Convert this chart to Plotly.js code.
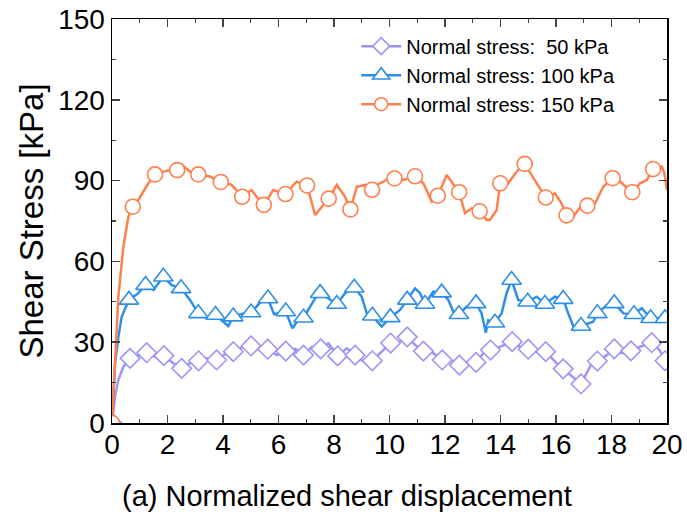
<!DOCTYPE html>
<html>
<head>
<meta charset="utf-8">
<script src="https://cdn.plot.ly/plotly-3.0.1.min.js"></script>
<style>html,body{margin:0;padding:0;background:#fff}#chart{width:687px;height:521px}</style>
</head>
<body>
<div id="chart"></div>
<script>
// Series names
const seriesNames = ["Normal stress:  50 kPa", "Normal stress: 100 kPa", "Normal stress: 150 kPa"];

// 50 kPa: marker points and intermediate line points
const s50MarkX = [0, 0.65, 1.25, 1.87, 2.51, 3.12, 3.77, 4.37, 5.01, 5.61, 6.26, 6.9, 7.52, 8.13, 8.76, 9.38, 10.04, 10.64, 11.22, 11.9, 12.52, 13.12, 13.64, 14.42, 15.0, 15.63, 16.26, 16.9, 17.49, 18.1, 18.7, 19.45, 19.93];
const s50MarkY = [0, 24, 26.1, 25, 20.3, 23.1, 23.4, 26.5, 28.6, 27.4, 26.7, 25.2, 27.5, 24.9, 25.2, 23.1, 29.7, 32, 26.7, 23.4, 21.5, 22.5, 27.1, 30.2, 27.4, 26.5, 20.1, 14.5, 23, 27.5, 26.8, 29.8, 23.1];
const s50LineX = [0.11, 0.23, 0.41, 0.95, 1.55, 2.21, 2.81, 3.41, 4.13, 4.73, 5.33, 5.94, 6.62, 7.2, 7.8, 8.46, 9.06, 9.66, 10.38, 10.92, 11.58, 12.18, 12.84, 13.38, 13.98, 14.7, 15.3, 16.02, 16.56, 17.29, 17.83, 18.37, 19.03, 19.73, 20];
const s50LineY = [9.8, 16, 20.9, 25.2, 24.6, 22.2, 22.2, 24, 25.9, 28.3, 27.1, 25.2, 27.5, 28.3, 29.6, 27.7, 22.8, 25.9, 30.2, 29, 25.9, 23.4, 22.2, 25.9, 28.3, 28.3, 27.1, 22.2, 17.8, 22.2, 25.2, 25.9, 28.3, 27.1, 22];

// 100 kPa
const s100MarkX = [0, 0.61, 1.21, 1.85, 2.49, 3.11, 3.73, 4.37, 5.01, 5.62, 6.26, 6.9, 7.5, 8.1, 8.73, 9.38, 10.03, 10.64, 11.28, 11.88, 12.5, 13.12, 13.8, 14.4, 14.98, 15.6, 16.26, 16.9, 17.49, 18.1, 18.81, 19.41, 19.93];
const s100MarkY = [0, 45.7, 51.2, 54.3, 50, 40.7, 40.1, 39.5, 41.0, 46.2, 41.4, 39.1, 48.2, 44.2, 50.2, 39.8, 39.2, 45.7, 44.2, 48.4, 40.4, 44.4, 37.2, 53.1, 45.0, 44.2, 46.0, 36.0, 40.7, 44.4, 40.4, 38.9, 38.9];
const s100LineX = [0.05, 0.11, 0.23, 0.35, 0.95, 1.49, 2.15, 2.81, 3.41, 4.19, 4.73, 5.36, 5.84, 6.5, 6.71, 7.14, 7.32, 7.8, 8.4, 9.0, 9.18, 9.72, 10.38, 10.92, 11.1, 11.58, 12.12, 12.3, 12.78, 13.32, 13.47, 13.56, 14.04, 14.22, 14.64, 15.3, 15.96, 16.44, 16.68, 17.34, 17.83, 18.43, 19.09, 19.69, 20];
const s100LineY = [10, 22.2, 32, 39.5, 48.2, 49.4, 51.2, 45.7, 38.9, 36, 40.7, 45, 40.4, 35.2, 38.2, 43.2, 46.3, 46.3, 48.2, 46.9, 40.7, 35.8, 42, 50, 48.2, 48.8, 45.7, 41.3, 43.2, 40.7, 33.5, 38.2, 40.7, 48.2, 45.7, 46.9, 46.9, 40.7, 34.5, 37.6, 43.8, 40.7, 42.6, 38.9, 39];

// 150 kPa
const s150MarkX = [0, 0.75, 1.55, 2.35, 3.11, 3.92, 4.69, 5.47, 6.25, 7.03, 7.81, 8.59, 9.37, 10.18, 10.92, 11.74, 12.51, 13.25, 13.99, 14.87, 15.63, 16.38, 17.13, 18.04, 18.75, 19.5];
const s150MarkY = [0, 80.3, 92.3, 93.9, 92.3, 89.5, 84.0, 81.0, 85.0, 88.2, 83.3, 79.3, 86.6, 90.8, 91.6, 84.4, 85.7, 78.6, 89.0, 96.2, 83.7, 77.1, 80.7, 90.9, 85.7, 94.3];
const s150LineX = [0.08, 0.17, 0.23, 0.41, 0.59, 0.95, 1.31, 1.97, 2.53, 2.81, 3.53, 4.31, 5.03, 5.21, 5.81, 6.65, 7.32, 7.56, 8.1, 8.4, 8.82, 9.12, 9.54, 9.78, 10.02, 10.5, 11.22, 11.52, 12.06, 12.24, 12.72, 12.96, 13.5, 13.62, 13.86, 13.95, 14.28, 14.58, 15.12, 15.36, 15.96, 16.2, 16.62, 16.93, 17.41, 17.7, 18.31, 19.03, 19.27, 19.81, 19.9, 20];
const s150LineY = [15, 32, 47, 65.5, 76.6, 82.8, 89, 93.7, 95.8, 93.3, 91.5, 88.4, 86.5, 84.0, 86.5, 89.6, 77.2, 80.3, 88.4, 84, 87.7, 88.4, 88.4, 89.6, 90.9, 90.2, 89, 82.2, 92.1, 89.6, 77.9, 79.7, 75.4, 75.4, 79.1, 86, 89, 93.3, 92.1, 87.7, 85.3, 81.6, 76.6, 80.9, 81.6, 87.7, 89.6, 89, 90.2, 95.2, 93, 86.5];

const colors = ["#9C96F4", "#2E8FEA", "#FF7F4D"];
const symbols = ["diamond", "triangle-up", "circle"];
const msizes = [15, 17, 15];

function mergeLine(mx, my, lx, ly) {
  const pts = [];
  mx.forEach((x, i) => pts.push([x, my[i]]));
  lx.forEach((x, i) => pts.push([x, ly[i]]));
  pts.sort((a, b) => a[0] - b[0]);
  return {x: pts.map(p => p[0]), y: pts.map(p => p[1])};
}

const all = [
  [s50MarkX, s50MarkY, s50LineX, s50LineY],
  [s100MarkX, s100MarkY, s100LineX, s100LineY],
  [s150MarkX, s150MarkY, s150LineX, s150LineY]
];

const traces = [];
all.forEach((s, i) => {
  const l = mergeLine(s[0], s[1], s[2], s[3]);
  traces.push({x: l.x, y: l.y, mode: "lines", type: "scatter", showlegend: false,
    line: {color: colors[i], width: 2.5}, hoverinfo: "skip"});
  traces.push({x: s[0], y: s[1], mode: "markers", type: "scatter", showlegend: false,
    marker: {symbol: symbols[i], size: msizes[i], color: "#ffffff", line: {color: colors[i], width: 1.6}}});
});
all.forEach((s, i) => {
  traces.push({x: [null], y: [null], mode: "lines+markers", type: "scatter", name: seriesNames[i],
    line: {color: colors[i], width: 2.5},
    marker: {symbol: symbols[i], size: msizes[i] - 2, color: "#ffffff", line: {color: colors[i], width: 1.6}}});
});

const font = "Liberation Sans, Arial, sans-serif";
const layout = {
  width: 687, height: 521,
  margin: {l: 112, r: 20, t: 19, b: 98},
  paper_bgcolor: "#ffffff", plot_bgcolor: "#ffffff",
  font: {family: font, color: "#000000"},
  showlegend: true,
  legend: {x: 0.44, y: 0.981, xanchor: "left", yanchor: "top", bgcolor: "rgba(0,0,0,0)",
    font: {family: font, size: 20, color: "#000"}, itemwidth: 40, tracegroupgap: 0},
  xaxis: {range: [0, 20], tick0: 0, dtick: 2, ticks: "inside", ticklen: 8, tickwidth: 1.5,
    showline: true, linecolor: "#000", linewidth: 1.5, mirror: "ticks", showgrid: false, zeroline: false,
    tickfont: {family: font, size: 28, color: "#000"}, ticklabelstandoff: -4,
    minor: {ticks: "inside", ticklen: 4, tickwidth: 1.2, dtick: 1, tick0: 0, showgrid: false}},
  yaxis: {range: [0, 150], tick0: 0, dtick: 30, ticks: "inside", ticklen: 8, tickwidth: 1.5,
    showline: true, linecolor: "#000", linewidth: 1.5, mirror: "ticks", showgrid: false, zeroline: false,
    tickfont: {family: font, size: 28, color: "#000"}, ticklabelstandoff: 0,
    title: {text: "Shear Stress [kPa]", font: {family: font, size: 33, color: "#000"}, standoff: 4},
    minor: {ticks: "inside", ticklen: 4, tickwidth: 1.2, dtick: 15, tick0: 0, showgrid: false}},
  annotations: [{text: "(a) Normalized shear displacement", xref: "paper", yref: "paper",
    x: 0.4234, y: -0.18, xanchor: "center", yanchor: "middle", showarrow: false,
    font: {family: font, size: 29, color: "#000"}}]
};

Plotly.newPlot("chart", traces, layout, {staticPlot: true});
</script>
</body>
</html>
